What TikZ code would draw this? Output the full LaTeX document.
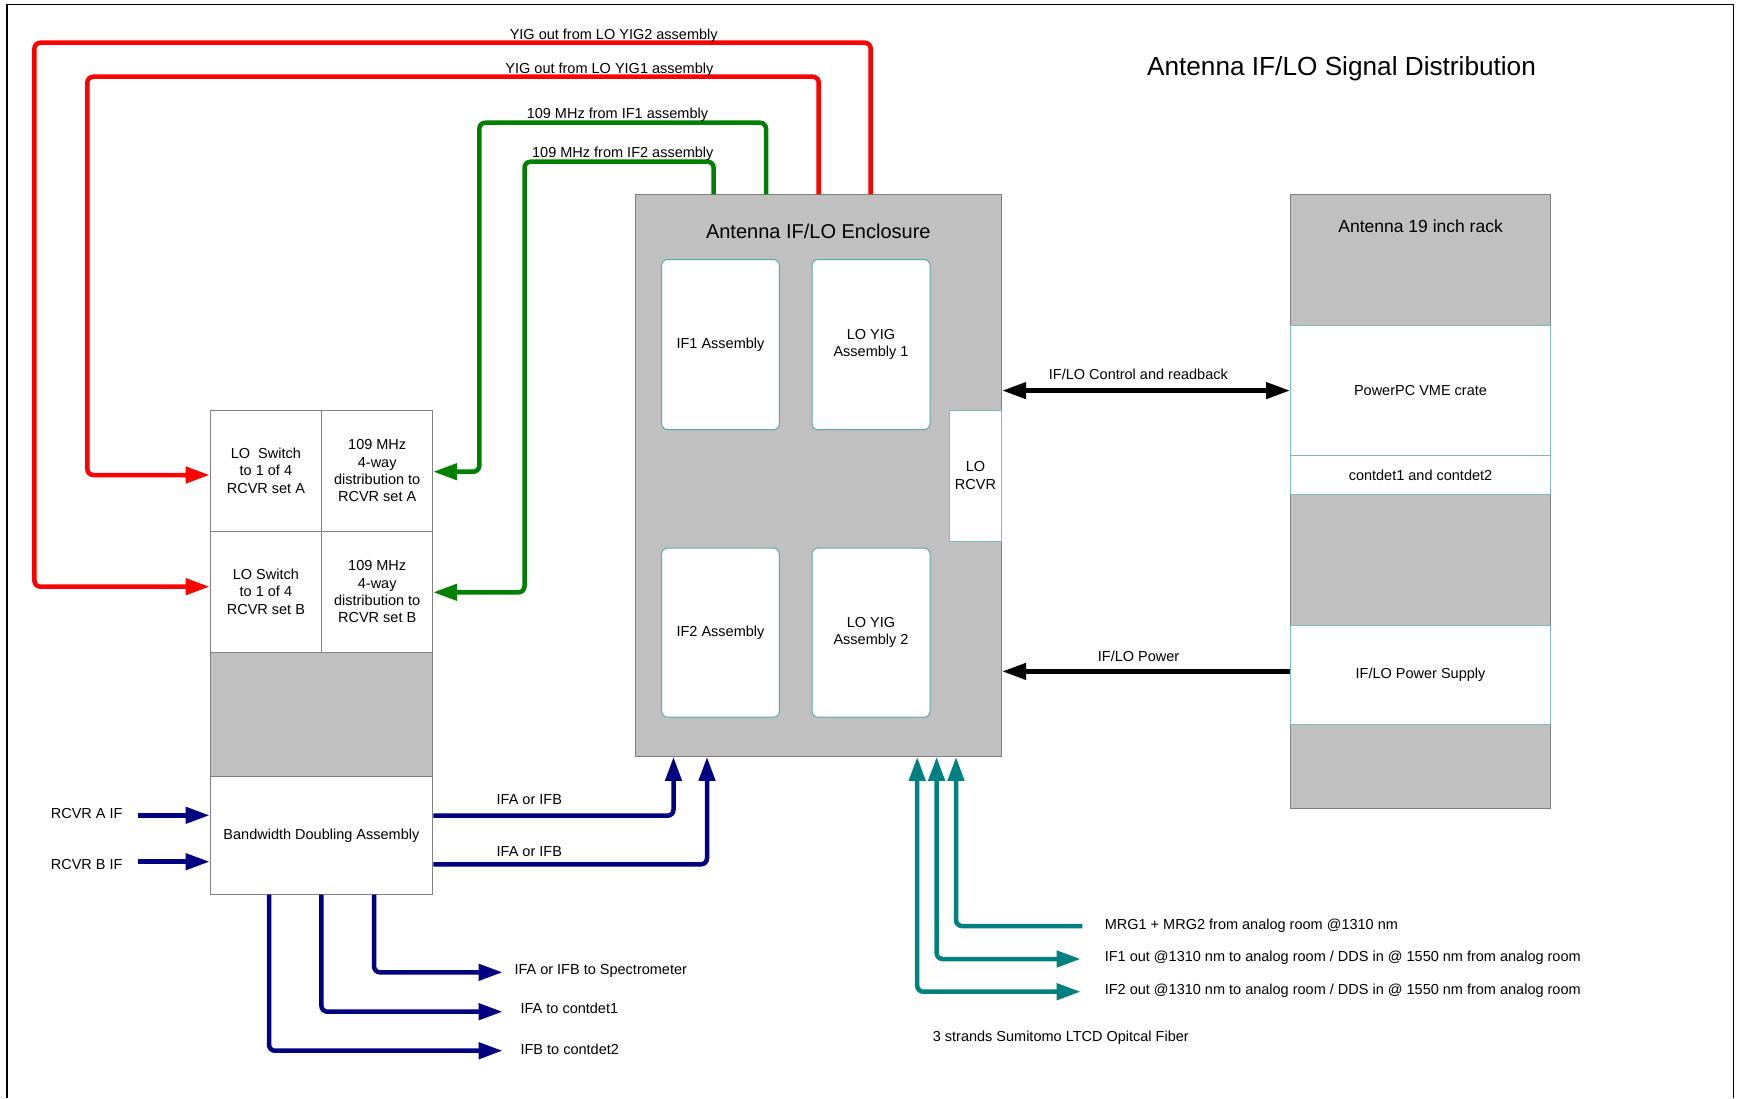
\documentclass[tikz,border=0pt]{standalone}
\usepackage{fontspec}
\setmainfont{Liberation Sans}
\usetikzlibrary{arrows.meta}
\definecolor{boxgray}{HTML}{C0C0C0}
\definecolor{edgegray}{HTML}{808080}
\definecolor{tealedge}{HTML}{5FA8A8}
\definecolor{sigred}{HTML}{FF0000}
\definecolor{siggreen}{HTML}{008000}
\definecolor{signavy}{HTML}{000080}
\definecolor{sigteal}{HTML}{008080}
\begin{document}
\begin{tikzpicture}[x=1pt,y=-1pt,
  every node/.style={font=\fontsize{14.5}{17.3}\selectfont},
  graybox/.style={draw=edgegray,fill=boxgray,line width=1pt,inner sep=0pt},
  whitebox/.style={draw=edgegray,fill=white,line width=1pt,inner sep=0pt,align=center},
  rackwhite/.style={draw=tealedge!80,fill=white,line width=1pt,inner sep=0pt,align=center},
  innerbox/.style={draw=tealedge,fill=white,line width=1pt,rounded corners=6pt,inner sep=0pt,align=center},
  lbl/.style={inner sep=0pt,text height=10.4pt,text depth=0pt},
  wire/.style={line width=4.5pt,rounded corners=6pt},
  tip/.style={-{Triangle[length=24pt,width=16pt]}},
  twotips/.style={{Triangle[length=24pt,width=16pt]}-{Triangle[length=24pt,width=16pt]}}
]
\useasboundingbox[fill=white] (0,0) rectangle (1739,1098);
\draw[line width=1.5pt,black] (7,1098) -- (7,4.3) -- (1733.3,4.3) -- (1733.3,1098);

% title
\node[inner sep=0pt,text height=18.7pt,text depth=0pt,font=\fontsize{26.2}{30}\selectfont] (title) at (1341.5,66.3) {Antenna IF/LO Signal Distribution};

% enclosure
\node[graybox,minimum width=366.4pt,minimum height=561.6pt] (enc) at (818.5,475.6) {};
\node[inner sep=0pt,text height=14.3pt,text depth=0pt,font=\fontsize{20}{24}\selectfont] (enctitle) at (818.3,231.4) {Antenna IF/LO Enclosure};
\node[innerbox,minimum width=117.6pt,minimum height=170.2pt] (if1) at (720.5,344.6) {IF1 Assembly};
\node[innerbox,minimum width=118pt,minimum height=170.2pt] (yig1) at (871,344.6) {LO YIG\\Assembly 1};
\node[innerbox,minimum width=117.6pt,minimum height=169.2pt] (if2) at (720.5,632.6) {IF2 Assembly};
\node[innerbox,minimum width=118pt,minimum height=169.2pt] (yig2) at (871,632.6) {LO YIG\\Assembly 2};
\node[rackwhite,minimum width=52.4pt,minimum height=131pt] (lorcvr) at (975.5,475.5) {LO\\RCVR};

% left block
\node[whitebox,minimum width=111.7pt,minimum height=121.3pt] (swA) at (265.9,470.7) {LO\ \ Switch\\to 1 of 4\\RCVR set A};
\node[whitebox,minimum width=111pt,minimum height=121.3pt] (distA) at (377.2,470.7) {109 MHz\\4-way\\distribution to\\RCVR set A};
\node[whitebox,minimum width=111.7pt,minimum height=121pt] (swB) at (265.9,591.8) {LO Switch\\to 1 of 4\\RCVR set B};
\node[whitebox,minimum width=111pt,minimum height=121pt] (distB) at (377.2,591.8) {109 MHz\\4-way\\distribution to\\RCVR set B};
\node[graybox,minimum width=222.7pt,minimum height=124.4pt] (grayL) at (321.4,714.5) {};
\node[whitebox,minimum width=222.7pt,minimum height=117.3pt] (bda) at (321.4,835.4) {Bandwidth Doubling Assembly};

% rack
\node[graybox,minimum width=260pt,minimum height=614.3pt] (rack) at (1420.5,501.45) {};
\node[inner sep=0pt,text height=12.5pt,text depth=0pt,font=\fontsize{17.5}{21}\selectfont] (racktitle) at (1420.6,226.3) {Antenna 19 inch rack};
\node[rackwhite,minimum width=260pt,minimum height=130.2pt] (ppc) at (1420.5,390.4) {PowerPC VME crate};
\node[rackwhite,minimum width=260pt,minimum height=39.2pt] (cont) at (1420.5,475.1) {contdet1 and contdet2};
\node[rackwhite,minimum width=260pt,minimum height=98.3pt] (psu) at (1420.5,674.85) {IF/LO Power Supply};

% red YIG lines
\draw[wire,sigred,tip] (818.7,0 |- enc.north) -- (818.7,76.7) -- (87.3,76.7) -- (87.3,475) -- (swA.west |- 0,475);
\draw[wire,sigred,tip] (870.7,0 |- enc.north) -- (870.7,42.7) -- (34.4,42.7) -- (34.4,586.7) -- (swB.west |- 0,586.7);
\node[lbl] (lyig2) at (613.7,34.3) {YIG out from LO YIG2 assembly};
\node[lbl] (lyig1) at (609.4,68.3) {YIG out from LO YIG1 assembly};

% green 109 MHz lines
\draw[wire,siggreen,tip] (766,0 |- enc.north) -- (766,122.7) -- (479.3,122.7) -- (479.3,471.7) -- (distA.east |- 0,471.7);
\draw[wire,siggreen,tip] (713.6,0 |- enc.north) -- (713.6,161.7) -- (524.5,161.7) -- (524.5,592.3) -- (distB.east |- 0,592.3);
\node[lbl] (lif1) at (617.4,113.3) {109 MHz from IF1 assembly};
\node[lbl] (lif2) at (622.8,152.7) {109 MHz from IF2 assembly};

% black control / power
\draw[line width=4.5pt,black,twotips] (ppc.west |- 0,390.6) -- (enc.east |- 0,390.6);
\node[lbl] (lctl) at (1138.4,374.7) {IF/LO Control and readback};
\draw[line width=4.5pt,black,tip] (psu.west |- 0,671.4) -- (enc.east |- 0,671.4);
\node[lbl] (lpwr) at (1138.6,656.3) {IF/LO Power};

% blue IF lines
\coordinate (ina) at (137.8,815.3);
\coordinate (inb) at (137.8,861.7);
\draw[wire,signavy,tip] (ina) -- (bda.west |- ina);
\draw[wire,signavy,tip] (inb) -- (bda.west |- inb);
\node[lbl] (lrcvra) at (86.7,813.3) {RCVR A IF};
\node[lbl] (lrcvrb) at (86.7,864) {RCVR B IF};
\draw[wire,signavy,tip] (bda.east |- 0,815.7) -- (673.5,815.7) -- (673.5,0 |- enc.south);
\draw[wire,signavy,tip] (bda.east |- 0,864.3) -- (707,864.3) -- (707,0 |- enc.south);
\node[lbl] (lifa1) at (529.3,799.3) {IFA or IFB};
\node[lbl] (lifa2) at (529.3,851.7) {IFA or IFB};
\coordinate (outspec) at (502.6,972.3);
\coordinate (outc1) at (502.6,1011.7);
\coordinate (outc2) at (502.6,1050.7);
\draw[wire,signavy,tip] (374,0 |- bda.south) -- (374,972.3) -- (outspec);
\draw[wire,signavy,tip] (321.4,0 |- bda.south) -- (321.4,1011.7) -- (outc1);
\draw[wire,signavy,tip] (269,0 |- bda.south) -- (269,1050.7) -- (outc2);
\node[lbl,anchor=west] (lspec) at (514.3,969.3) {IFA or IFB to Spectrometer};
\node[lbl,anchor=west] (lc1) at (520.4,1008.3) {IFA to contdet1};
\node[lbl,anchor=west] (lc2) at (520.4,1049.3) {IFB to contdet2};

% teal fibers
\coordinate (mrgend) at (1082.3,926);
\coordinate (if1end) at (1080.6,959);
\coordinate (if2end) at (1080.6,991.7);
\draw[wire,sigteal,tip] (mrgend) -- (956,926) -- (956,0 |- enc.south);
\draw[wire,sigteal,twotips] (if1end) -- (936.6,959) -- (936.6,0 |- enc.south);
\draw[wire,sigteal,twotips] (if2end) -- (917.2,991.7) -- (917.2,0 |- enc.south);
\node[lbl,anchor=west] (lmrg) at (1104.6,924) {MRG1 + MRG2 from analog room @1310 nm};
\node[lbl,anchor=west] (lif1o) at (1104.6,956.3) {IF1 out @1310 nm to analog room / DDS in @ 1550 nm from analog room};
\node[lbl,anchor=west] (lif2o) at (1104.6,989.3) {IF2 out @1310 nm to analog room / DDS in @ 1550 nm from analog room};
\node[lbl,anchor=west] (lfiber) at (932.6,1036) {3 strands Sumitomo LTCD Opitcal Fiber};
\end{tikzpicture}
\end{document}
